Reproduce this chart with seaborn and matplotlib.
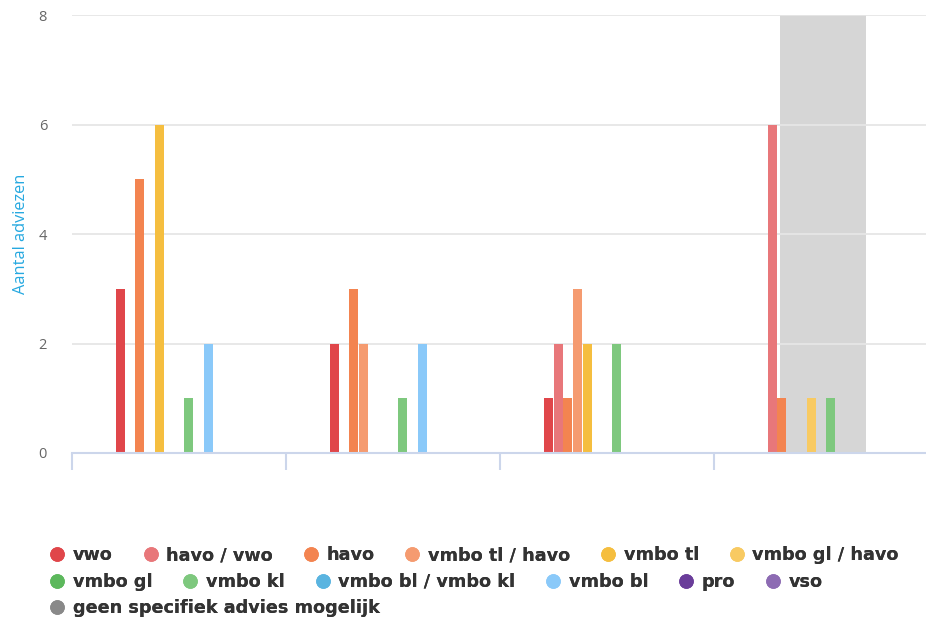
import matplotlib
matplotlib.use("Agg")
import matplotlib.pyplot as plt
from matplotlib.lines import Line2D
import seaborn as sns
import pandas as pd

# Advice categories (series) and their colours
series = ["vwo", "havo / vwo", "havo", "vmbo tl / havo", "vmbo tl",
          "vmbo gl / havo", "vmbo gl", "vmbo kl", "vmbo bl / vmbo kl",
          "vmbo bl", "pro", "vso", "geen specifiek advies mogelijk"]
colors = ["#e0464a", "#e8777a", "#f38450", "#f59b70", "#f5be3f",
          "#f8ca62", "#5cb85c", "#7ec87e", "#5ab4e0", "#8ac9f9",
          "#6a3d9a", "#8d6bb3", "#898989"]

# Four (unlabelled) groups on the x axis
groups = ["", " ", "  ", "   "]

# Number of advices per series, one value per group
vwo = [3, 2, 1, 0]
havo_vwo = [0, 0, 2, 6]
havo = [5, 3, 1, 1]
vmbo_tl_havo = [0, 2, 3, 0]
vmbo_tl = [6, 0, 2, 0]
vmbo_gl_havo = [0, 0, 0, 1]
vmbo_gl = [0, 0, 0, 0]
vmbo_kl = [1, 1, 2, 1]
vmbo_bl_kl = [0, 0, 0, 0]
vmbo_bl = [2, 2, 0, 0]
pro = [0, 0, 0, 0]
vso = [0, 0, 0, 0]
geen = [0, 0, 0, 0]

values = [vwo, havo_vwo, havo, vmbo_tl_havo, vmbo_tl, vmbo_gl_havo, vmbo_gl,
          vmbo_kl, vmbo_bl_kl, vmbo_bl, pro, vso, geen]

rows = []
for s, vals in zip(series, values):
    for g, v in zip(groups, vals):
        rows.append({"groep": g, "advies": s, "aantal": v})
df = pd.DataFrame(rows)

sns.set_theme(style="white")
plt.rcParams["font.family"] = ["Open Sans", "DejaVu Sans"]

fig = plt.figure(figsize=(9.26, 6.22), dpi=100)
ax = fig.add_axes([72 / 926, 1 - 453 / 622, 856 / 926, 438 / 622])

# highlighted band over the last group
ax.axvspan(2.81, 3.21, color="#d6d6d6", zorder=0.5, lw=0)

sns.barplot(data=df, x="groep", y="aantal", hue="advies", order=groups,
            hue_order=series, palette=colors, width=0.595, gap=0.08,
            linewidth=0, saturation=1, errorbar=None, legend=False,
            ax=ax, zorder=2)

ax.set_xlim(-0.5, 3.5)
ax.set_ylim(0, 8)
ax.set_yticks([0, 2, 4, 6, 8])
ax.set_yticklabels(["0", "2", "4", "6", "8"], color="#666666", fontsize=10.5)
ax.yaxis.grid(True, color="#e6e6e6", linewidth=1.3)
for ln in ax.get_ygridlines():
    ln.set_zorder(0.8)
ax.tick_params(axis="y", left=False, length=0, pad=18)

ax.set_xticks([-0.5, 0.5, 1.5, 2.5, 3.5])
ax.set_xticklabels([])
ax.tick_params(axis="x", bottom=True, length=12, width=1.5,
               color="#ccd6eb", direction="out")
ax.set_xlabel("")
ax.set_ylabel("Aantal adviezen", color="#25a8e0", fontsize=11.8, labelpad=7)

for side in ["top", "right", "left"]:
    ax.spines[side].set_visible(False)
ax.spines["bottom"].set_color("#ccd6eb")
ax.spines["bottom"].set_linewidth(1.5)
ax.spines["bottom"].set_zorder(3)

# legend laid out in three flowing rows
def handle(c):
    return Line2D([], [], marker="o", linestyle="", markersize=10.5,
                  markerfacecolor=c, markeredgewidth=0)

rows_idx = [range(0, 6), range(6, 12), range(12, 13)]
row_y = [555, 582, 608]
for idx, y in zip(rows_idx, row_y):
    idx = list(idx)
    leg = fig.legend([handle(colors[i]) for i in idx], [series[i] for i in idx],
                     loc="center left", bbox_to_anchor=(41 / 926, 1 - y / 622),
                     ncol=len(idx), frameon=False, handlelength=0.85,
                     handletextpad=0.45, columnspacing=1.73, borderpad=0,
                     prop={"size": 12.7, "weight": "bold",
                           "family": "DejaVu Sans"})
    for t in leg.get_texts():
        t.set_color("#333333")
    fig.add_artist(leg)

fig.savefig("out.png", dpi=100)
